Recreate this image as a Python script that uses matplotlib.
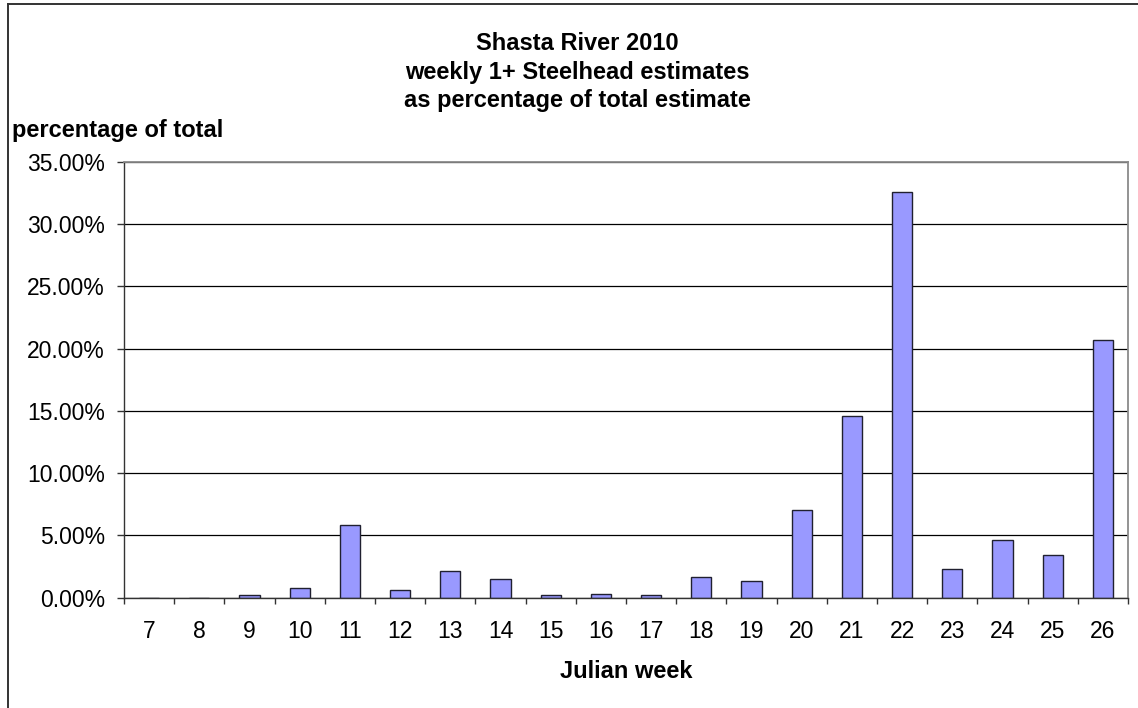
import matplotlib
matplotlib.use("Agg")
import matplotlib.pyplot as plt
from matplotlib.lines import Line2D
from matplotlib.ticker import FixedLocator, FuncFormatter

plt.rcParams['font.family'] = ['Liberation Sans', 'DejaVu Sans']

# Weekly share of the season's 1+ steelhead estimate (percent)
weeks = [7, 8, 9, 10, 11, 12, 13, 14, 15, 16, 17, 18, 19, 20, 21, 22, 23, 24, 25, 26]
percent_of_total = [0.0, 0.0, 0.19, 0.75, 5.86, 0.59, 2.12, 1.52, 0.19, 0.30,
                    0.19, 1.64, 1.36, 7.02, 14.58, 32.6, 2.28, 4.63, 3.43, 20.7]

title_lines = ["Shasta River 2010",
               "weekly 1+ Steelhead estimates",
               "as percentage of total estimate"]
y_ticks = [0, 5, 10, 15, 20, 25, 30, 35]

W, H = 1138, 708
ax_bottom_px, ax_top_px = 597.7, 161.7
fig = plt.figure(figsize=(W / 100, H / 100), dpi=100)
ax = fig.add_axes([124 / W, 1 - ax_bottom_px / H, (1128 - 124) / W,
                   (ax_bottom_px - ax_top_px) / H])

ax.bar(weeks, percent_of_total, width=0.4, color='#9999FF',
       edgecolor='#202030', linewidth=1.0, zorder=3)

ax.set_xlim(weeks[0] - 0.5, weeks[-1] + 0.5)
ax.set_ylim(0, 35)

# y axis: percent labels with two decimals
ax.yaxis.set_major_locator(FixedLocator(y_ticks))
ax.yaxis.set_major_formatter(FuncFormatter(lambda v, p: f"{v:.2f}%"))
ax.grid(axis='y', color='#000000', linewidth=0.9, zorder=1)
ax.tick_params(axis='y', direction='out', length=5.3, width=1, color='#333333',
               labelsize=16.5, pad=8.5)

# x axis: labels at category centres, tick marks on category boundaries
ax.set_xticks(weeks)
ax.set_xticklabels([str(w) for w in weeks])
ax.set_xticks([w - 0.5 for w in weeks] + [weeks[-1] + 0.5], minor=True)
ax.tick_params(axis='x', which='major', length=0, labelsize=16.5, pad=16)
ax.tick_params(axis='x', which='minor', direction='out', length=4.3, width=1,
               color='#333333')

for side in ('left', 'bottom'):
    ax.spines[side].set_color('#333333')
    ax.spines[side].set_linewidth(1.0)
for side in ('top', 'right'):
    ax.spines[side].set_color('#8a8a8a')
    ax.spines[side].set_linewidth(1.3)
ax.spines['bottom'].set_zorder(4)

ax.set_xlabel("Julian week", fontsize=17, fontweight='bold')
ax.xaxis.label.set_va('center')
ax.xaxis.set_label_coords(0.5, -(671.7 - ax_bottom_px) / (ax_bottom_px - ax_top_px))

fig.text(577 / W, 1 - 72 / H, "\n".join(title_lines), ha='center', va='center',
         fontsize=17, fontweight='bold', linespacing=1.3)
fig.text(12 / W, 1 - 130 / H, "percentage of total", ha='left', va='center',
         fontsize=17, fontweight='bold')

# chart-area frame along the left and top edges
fig.add_artist(Line2D([8 / W, 8 / W], [0, 1 - 4 / H], color='#333333', linewidth=1.4))
fig.add_artist(Line2D([8 / W, 1], [1 - 4 / H, 1 - 4 / H], color='#333333', linewidth=1.4))

fig.savefig("out.png", dpi=100)
